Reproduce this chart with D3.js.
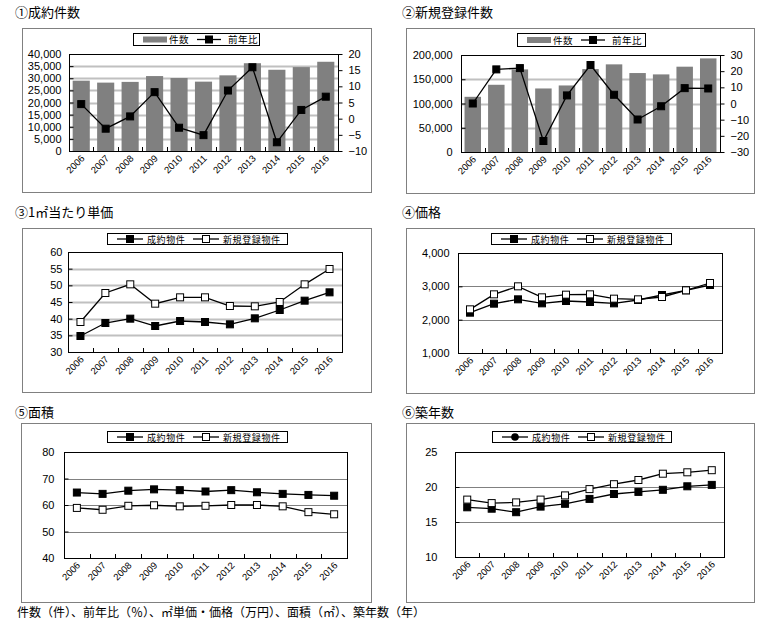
<!DOCTYPE html>
<html><head><meta charset="utf-8">
<script src="https://cdn.jsdelivr.net/npm/d3@7"></script>
<style>
body{margin:0;background:#fff;}
text{font-family:"Liberation Sans","Noto Sans CJK JP",sans-serif;}
.jp{font-family:"Noto Sans CJK JP",sans-serif;}
</style></head><body>
<svg id="c" width="777" height="632"></svg>
<script>
const years = ["2006","2007","2008","2009","2010","2011","2012","2013","2014","2015","2016"];

// ① 成約件数
const contractCount = [29000,28200,28500,30900,30100,28600,31200,36200,33500,34600,36800];
const contractYoY   = [4.5,-3.1,0.7,8.2,-2.8,-5.1,8.7,15.9,-7.3,2.7,6.8];
// ② 新規登録件数
const newCount = [113800,138600,170300,131000,137200,171000,180700,162800,160000,175900,193000];
const newYoY   = [0,21.1,21.9,-23.2,5.0,23.8,5.4,-9.9,-1.7,9.5,9.3];
// ③ 1㎡当たり単価
const unitContract = [34.8,38.7,40.0,37.8,39.3,39.0,38.3,40.1,42.6,45.4,47.9];
const unitNew      = [39.0,47.7,50.3,44.5,46.4,46.4,43.8,43.7,45.0,50.3,54.9];
// ④ 価格
const priceContract = [2210,2480,2610,2490,2560,2530,2490,2590,2740,2880,3040];
const priceNew      = [2310,2760,3000,2670,2750,2760,2630,2610,2680,2880,3100];
// ⑤ 面積
const areaContract = [64.7,64.2,65.4,65.9,65.6,65.1,65.6,64.8,64.2,63.8,63.5];
const areaNew      = [58.9,58.2,59.7,59.9,59.5,59.7,60.0,60.0,59.5,57.3,56.5];
// ⑥ 築年数
const ageContract = [17.1,16.9,16.4,17.2,17.6,18.3,19.0,19.3,19.6,20.1,20.3];
const ageNew      = [18.2,17.7,17.8,18.2,18.8,19.7,20.4,21.0,21.9,22.1,22.4];

// tick values
const ticks1L = [0,5000,10000,15000,20000,25000,30000,35000,40000];
const ticks1R = [-10,-5,0,5,10,15,20];
const ticks2L = [0,50000,100000,150000,200000];
const ticks2R = [-30,-20,-10,0,10,20,30];
const ticks3 = [30,35,40,45,50,55,60];
const ticks4 = [1000,2000,3000,4000];
const ticks5 = [40,50,60,70,80];
const ticks6 = [10,15,20,25];

// texts
const titles = ["①成約件数","②新規登録件数","③1㎡当たり単価","④価格","⑤面積","⑥築年数"];
const barLegend = ["件数","前年比"];
const lineLegend = ["成約物件","新規登録物件"];
const footnote = "件数（件）、前年比（％）、㎡単価・価格（万円）、面積（㎡）、築年数（年）";

const svg = d3.select("#c");
svg.append("rect").attr("width",777).attr("height",632).attr("fill","#fff");

function marker(g, x, y, filled, size){
  g.append("rect").attr("x",x-size/2).attr("y",y-size/2).attr("width",size).attr("height",size)
   .attr("fill",filled?"#000":"#fff").attr("stroke","#000").attr("stroke-width",1);
}

function panel(cfg){
  const g = svg.append("g");
  // title
  g.append("text").attr("class","jp").attr("x",cfg.title[0]).attr("y",cfg.title[1])
   .attr("font-size",13).text(cfg.titleText);
  // frame
  g.append("rect").attr("x",cfg.frame[0]+0.5).attr("y",cfg.frame[1]+0.5)
   .attr("width",cfg.frame[2]-cfg.frame[0]).attr("height",cfg.frame[3]-cfg.frame[1])
   .attr("fill","#fff").attr("stroke","#808080").attr("stroke-width",1);
  const [L,T,R,B] = cfg.plot;
  const x = d3.scaleBand().domain(years).range([L,R]);
  const y = d3.scaleLinear().domain(cfg.yDomain).range([B,T]);
  // gridlines
  g.append("g").selectAll("line").data(cfg.yTicks.slice(1,-1)).join("line")
   .attr("x1",L).attr("x2",R).attr("y1",d=>Math.round(y(d))+0.5).attr("y2",d=>Math.round(y(d))+0.5)
   .attr("stroke",cfg.gridColor).attr("stroke-width",cfg.gridWidth);
  // bars
  if(cfg.bars){
    const xb = d3.scaleBand().domain(years).range([L,R]).paddingInner(0.3).paddingOuter(0.15);
    g.append("g").selectAll("rect").data(cfg.bars).join("rect")
     .attr("x",(d,i)=>xb(years[i])).attr("width",xb.bandwidth())
     .attr("y",d=>y(d)).attr("height",d=>B-y(d)).attr("fill","#808080");
  }
  // plot border
  g.append("rect").attr("x",L+0.5).attr("y",T+0.5).attr("width",R-L).attr("height",B-T)
   .attr("fill","none").attr("stroke","#000").attr("stroke-width",1);
  // left axis
  const ax = d3.axisLeft(y).tickValues(cfg.yTicks).tickSize(-4).tickPadding(cfg.lblOff-4)
    .tickFormat(cfg.fmt);
  const ag = g.append("g").attr("transform",`translate(${L+0.5},0)`).call(ax);
  ag.select(".domain").remove();
  ag.selectAll("text").attr("font-size",11).attr("fill","#000");
  ag.selectAll("line").attr("stroke","#000");
  // right axis
  let y2 = null;
  if(cfg.y2Domain){
    y2 = d3.scaleLinear().domain(cfg.y2Domain).range([B,T]);
    const ar = d3.axisRight(y2).tickValues(cfg.y2Ticks).tickSize(4).tickPadding(6);
    const rg = g.append("g").attr("transform",`translate(${R+0.5},0)`).call(ar);
    rg.select(".domain").remove();
    rg.selectAll("text").attr("font-size",11).attr("fill","#000");
    rg.selectAll("line").attr("stroke","#000");
  }
  // x ticks (category boundaries, inward)
  g.append("g").selectAll("line").data(years.slice(1)).join("line")
   .attr("x1",d=>Math.round(x(d))+0.5).attr("x2",d=>Math.round(x(d))+0.5)
   .attr("y1",B).attr("y2",B-4).attr("stroke","#000");
  // x labels
  g.append("g").selectAll("text").data(years).join("text")
   .attr("transform",d=>`translate(${x(d)+x.bandwidth()/2+4},${B+8}) rotate(-45)`)
   .attr("text-anchor","end").attr("font-size",9.5).text(d=>d);
  // lines
  const ys = cfg.y2Domain ? y2 : y;
  cfg.lines.forEach(s=>{
    const line = d3.line().x((d,i)=>x(years[i])+x.bandwidth()/2).y(d=>ys(d));
    g.append("path").datum(s.data).attr("d",line).attr("fill","none")
     .attr("stroke","#000").attr("stroke-width",1.3);
  });
  cfg.lines.forEach(s=>{
    s.data.forEach((d,i)=>marker(g, x(years[i])+x.bandwidth()/2, ys(d), s.filled, 7));
  });
  // legend
  const [lx,ly,lr,lb] = cfg.legend;
  g.append("rect").attr("x",lx+0.5).attr("y",ly+0.5).attr("width",lr-lx).attr("height",lb-ly)
   .attr("fill","#fff").attr("stroke","#000").attr("stroke-width",1);
  const cy = (ly+lb)/2+0.5;
  if(cfg.bars){
    g.append("rect").attr("x",lx+10).attr("y",cy-3).attr("width",24).attr("height",6).attr("fill","#808080");
    g.append("text").attr("class","jp").attr("x",lx+36).attr("y",cy+3.5).attr("font-size",9.5)
     .attr("letter-spacing",0.5).text(barLegend[0]);
    g.append("line").attr("x1",lx+64).attr("x2",lx+88).attr("y1",cy).attr("y2",cy).attr("stroke","#000").attr("stroke-width",1.3);
    marker(g, lx+76, cy, true, 7);
    g.append("text").attr("class","jp").attr("x",lx+95).attr("y",cy+3.5).attr("font-size",9.5)
     .attr("letter-spacing",0.5).text(barLegend[1]);
  } else {
    [[10,true],[86,false]].forEach(([o,f],k)=>{
      g.append("line").attr("x1",lx+o).attr("x2",lx+o+26).attr("y1",cy).attr("y2",cy).attr("stroke","#000").attr("stroke-width",1.3);
      if(cfg.circleLegend && k===0){
        g.append("circle").attr("cx",lx+o+13).attr("cy",cy).attr("r",3.8).attr("fill","#000");
      } else marker(g, lx+o+13, cy, f, 7);
      g.append("text").attr("class","jp").attr("x",lx+o+30).attr("y",cy+3.5).attr("font-size",9)
       .attr("letter-spacing",0.6).text(lineLegend[k]);
    });
  }
}

const fmtC = d3.format(",");
panel({titleText:titles[0],title:[15,17],frame:[22,28,371,192],plot:[69,54,338,151],legend:[133,33,259,45],
  yDomain:[0,40000],yTicks:ticks1L,fmt:fmtC,lblOff:12,y2Domain:[-10,20],y2Ticks:ticks1R,
  gridColor:"#c0c0c0",gridWidth:2,bars:contractCount,lines:[{data:contractYoY,filled:true}]});
panel({titleText:titles[1],title:[402,17],frame:[406,28,754,193],plot:[461,55,720,152],legend:[517,33,645,46],
  yDomain:[0,200000],yTicks:ticks2L,fmt:fmtC,lblOff:13,y2Domain:[-30,30],y2Ticks:ticks2R,
  gridColor:"#c0c0c0",gridWidth:2,bars:newCount,lines:[{data:newYoY,filled:true}]});
panel({titleText:titles[2],title:[15,217],frame:[22,228,371,392],plot:[68,252,342,352],legend:[107,233,287,244],
  yDomain:[30,60],yTicks:ticks3,fmt:d3.format("d"),lblOff:10,
  gridColor:"#c0c0c0",gridWidth:2,lines:[{data:unitContract,filled:true},{data:unitNew,filled:false}]});
panel({titleText:titles[3],title:[402,217],frame:[406,228,754,393],plot:[458,253,722,353],legend:[491,233,671,244],
  yDomain:[1000,4000],yTicks:ticks4,fmt:fmtC,lblOff:13,
  gridColor:"#808080",gridWidth:1,lines:[{data:priceContract,filled:true},{data:priceNew,filled:false}]});
panel({titleText:titles[4],title:[15,417],frame:[21,423,371,602],plot:[64,452,347,558],legend:[107,431,287,442],
  yDomain:[40,80],yTicks:ticks5,fmt:d3.format("d"),lblOff:14,
  gridColor:"#808080",gridWidth:1,lines:[{data:areaContract,filled:true},{data:areaNew,filled:false}]});
panel({titleText:titles[5],title:[402,417],frame:[406,423,754,602],plot:[455,452,724,557],legend:[492,431,671,442],
  yDomain:[10,25],yTicks:ticks6,fmt:d3.format("d"),lblOff:22,circleLegend:true,
  gridColor:"#808080",gridWidth:1,lines:[{data:ageContract,filled:true},{data:ageNew,filled:false}]});

svg.append("text").attr("class","jp").attr("x",17).attr("y",617).attr("font-size",12).text(footnote);
</script>
</body></html>
